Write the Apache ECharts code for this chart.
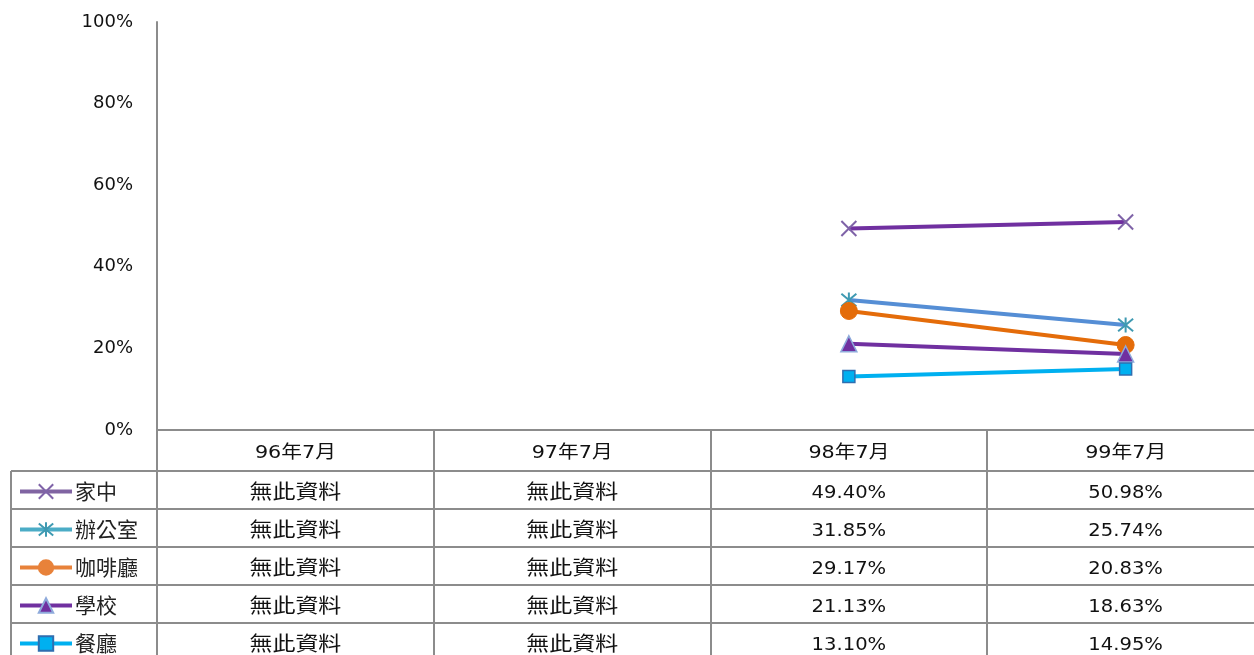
<!DOCTYPE html>
<html>
<head>
<meta charset="utf-8">
<script src="https://cdn.jsdelivr.net/npm/echarts@6/dist/echarts.min.js"></script>
<style>html,body{margin:0;padding:0;background:#fff}#main{width:1254px;height:655px}</style>
</head>
<body>
<div id="main"></div>
<script>
// 資料
var categories = ['96年7月', '97年7月', '98年7月', '99年7月'];
var seriesNames = ['家中', '辦公室', '咖啡廳', '學校', '餐廳'];
var home = [null, null, 0.4940, 0.5098];
var office = [null, null, 0.3185, 0.2574];
var cafe = [null, null, 0.2917, 0.2083];
var school = [null, null, 0.2113, 0.1863];
var restaurant = [null, null, 0.1310, 0.1495];
var noData = '無此資料';

var gridColor = '#8c8c8c';
var fontLatin = 'DejaVu Sans, Noto Sans CJK TC';

var myChart = echarts.init(document.getElementById('main'));

var xPath = 'path://M0,0L10,10M10,0L0,10';
var starPath = 'path://M0,0L10,10M10,0L0,10M5,-1L5,11';

var option = {
	animation : false,
	grid : {
		left : 157,
		top : 22,
		right : -10,
		bottom : 225,
		outerBoundsMode : 'none',
		containLabel : false
	},
	legend : {
		orient : 'vertical',
		left : 18,
		top : 481,
		height : 300,
		padding : 0,
		itemWidth : 52,
		itemHeight : 18,
		itemGap : 17,
		selectedMode : false,
		lineStyle : { width : 4 },
		textStyle : {
			fontFamily : 'Noto Sans CJK TC',
			fontSize : 21,
			lineHeight : 18,
			color : '#222',
			padding : [0, 0, 0, -2]
		},
		data : [
			{ name : '家中', lineStyle : { color : '#8064a2', width : 4 } },
			{ name : '辦公室', lineStyle : { color : '#4bacc6', width : 4 } },
			{ name : '咖啡廳', lineStyle : { color : '#e8823a', width : 4 }, itemStyle : { color : '#e8823a', borderColor : '#e8823a' } },
			{ name : '學校', lineStyle : { width : 4 } },
			{ name : '餐廳', lineStyle : { width : 4 } }
		]
	},
	xAxis : {
		type : 'category',
		data : categories,
		boundaryGap : true,
		axisLine : { show : true, lineStyle : { color : gridColor, width : 2 } },
		axisTick : { show : false },
		axisLabel : { show : false },
		splitLine : { show : false }
	},
	yAxis : {
		type : 'value',
		min : 0,
		max : 1,
		interval : 0.2,
		axisLine : { show : true, lineStyle : { color : gridColor, width : 2 } },
		axisTick : { show : false },
		splitLine : { show : false },
		axisLabel : {
			margin : 24,
			fontFamily : fontLatin,
			fontSize : 18,
			color : '#111',
			formatter : function (v) { return Math.round(v * 100) + '%'; }
		}
	},
	series : [
		{
			name : '家中', type : 'line', data : home,
			symbol : xPath, symbolSize : 15,
			lineStyle : { color : '#7030a0', width : 4 },
			itemStyle : { color : 'rgba(0,0,0,0)', borderColor : '#7f63a8', borderWidth : 2 }
		},
		{
			name : '辦公室', type : 'line', data : office,
			symbol : starPath, symbolSize : 15,
			lineStyle : { color : '#558ed5', width : 4 },
			itemStyle : { color : 'rgba(0,0,0,0)', borderColor : '#3f9ab2', borderWidth : 2 }
		},
		{
			name : '咖啡廳', type : 'line', data : cafe,
			symbol : 'circle', symbolSize : 17,
			lineStyle : { color : '#e46c0a', width : 4 },
			itemStyle : { color : '#e46c0a', borderColor : '#e46c0a', borderWidth : 1 }
		},
		{
			name : '學校', type : 'line', data : school,
			symbol : 'triangle', symbolSize : 16,
			lineStyle : { color : '#7030a0', width : 4 },
			itemStyle : { color : '#7030a0', borderColor : '#8eaadb', borderWidth : 1.5 }
		},
		{
			name : '餐廳', type : 'line', data : restaurant,
			symbol : 'rect', symbolSize : 12,
			lineStyle : { color : '#00b0f0', width : 4 },
			itemStyle : { color : '#00b0f0', borderColor : '#2f6eb0', borderWidth : 1.5 }
		}
	]
};
myChart.setOption(option);

// 資料表
function buildTable() {
	var allData = [home, office, cafe, school, restaurant];
	var c0 = myChart.convertToPixel({ xAxisIndex : 0 }, categories[0]);
	var c1 = myChart.convertToPixel({ xAxisIndex : 0 }, categories[1]);
	var band = c1 - c0;
	var W = myChart.getWidth(), H = myChart.getHeight();
	var topY = 430, headBottom = 471, rowH = 38;
	var els = [];
	var line = function (x1, y1, x2, y2) {
		els.push({ type : 'line', silent : true, z : 10,
			shape : { x1 : x1, y1 : y1, x2 : x2, y2 : y2 },
			style : { stroke : gridColor, lineWidth : 2 } });
	};
	var text = function (s, x, y, size) {
		els.push({ type : 'text', silent : true, z : 10, x : x, y : y, scaleX : 1.15,
			style : { text : s, x : 0, y : 0, align : 'center', verticalAlign : 'middle',
				fontFamily : fontLatin, fontSize : size, fill : '#111' } });
	};
	// 橫線
	for (var r = 0; r <= 4; r++) {
		line(11, headBottom + r * rowH, W, headBottom + r * rowH);
	}
	// 直線
	line(11, headBottom, 11, H);
	for (var i = 0; i < categories.length; i++) {
		var cx = myChart.convertToPixel({ xAxisIndex : 0 }, categories[i]);
		var bx = Math.round(cx - band / 2);
		line(bx, topY, bx, H);
		text(categories[i], cx, (topY + headBottom) / 2 + 3, 18);
		for (var s = 0; s < allData.length; s++) {
			var v = allData[s][i];
			var cy = headBottom + s * rowH + rowH / 2 + 4;
			if (v == null) {
				text(noData, cx, cy, 20);
			} else {
				text((v * 100).toFixed(2) + '%', cx, cy, 17);
			}
		}
	}
	myChart.setOption({ graphic : { elements : els } });
}
buildTable();
</script>
</body>
</html>
